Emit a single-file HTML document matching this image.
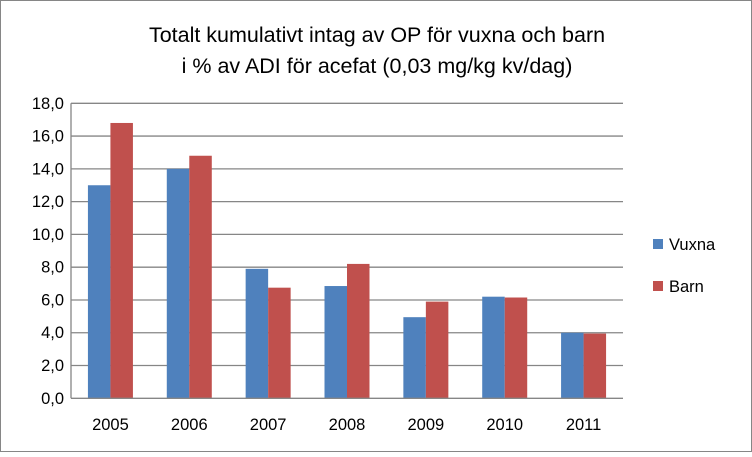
<!DOCTYPE html>
<html><head><meta charset="utf-8"><style>
body{margin:0;background:#fff}
svg text{font-family:"Liberation Sans",sans-serif}
</style></head><body>
<svg id="chart" width="752" height="452" xmlns="http://www.w3.org/2000/svg">
<rect x="0.5" y="0.5" width="751" height="451" fill="#fff" stroke="#868686"/>
<text x="377" y="42" font-size="21.5" text-anchor="middle" fill="#000">Totalt kumulativt intag av OP för vuxna och barn</text>
<text x="377" y="73" font-size="21.5" text-anchor="middle" fill="#000">i % av ADI för acefat (0,03 mg/kg kv/dag)</text>
<g id="grid"></g><g id="bars"></g><g id="axes"></g>
<g>
<rect x="653" y="239" width="10" height="10" fill="#4f81bd"/>
<text x="669" y="250" font-size="16.5">Vuxna</text>
<rect x="653" y="281" width="10" height="10" fill="#c0504d"/>
<text x="669" y="292" font-size="16.5">Barn</text>
</g>
</svg>
<script>
const categories=["2005","2006","2007","2008","2009","2010","2011"];
const vuxna=[13.0,14.0,7.9,6.85,4.95,6.2,4.0];
const barn=[16.8,14.8,6.75,8.2,5.9,6.15,3.95];
const yTicks=[0,2,4,6,8,10,12,14,16,18];
const yTickLabels=["0,0","2,0","4,0","6,0","8,0","10,0","12,0","14,0","16,0","18,0"];
const NS="http://www.w3.org/2000/svg";
const x0=71,x1=623,yb=398.3,yt=103.3,ymax=18;
const y=v=>yb-(v/ymax)*(yb-yt);
const cw=(x1-x0)/categories.length;
const bw=22.5;
function mk(tag,attrs,parent){const e=document.createElementNS(NS,tag);for(const k in attrs)e.setAttribute(k,attrs[k]);document.getElementById(parent).appendChild(e);return e;}
yTicks.forEach((t,i)=>{
 if(t>0){const l=mk('line',{x1:x0,x2:x1,y1:y(t),y2:y(t),stroke:'#868686','stroke-width':1.3},'grid');
 
 }
 const tx=mk('text',{x:x0-7,y:y(t)+5.5,'font-size':16.5,'text-anchor':'end'},'axes');
 tx.textContent=yTickLabels[i];
 
 
});
categories.forEach((c,i)=>{
 const cx=x0+cw*(i+0.5);
 const b1=mk('rect',{x:cx-bw,y:y(vuxna[i]),width:bw,height:yb-y(vuxna[i]),fill:'#4f81bd'},'bars');
 
 
 const b2=mk('rect',{x:cx,y:y(barn[i]),width:bw,height:yb-y(barn[i]),fill:'#c0504d'},'bars');
 
 
 const tx=mk('text',{x:cx,y:430,'font-size':16.5,'text-anchor':'middle'},'axes');
 tx.textContent=c;
 
 
});
const ya=mk('line',{x1:x0,x2:x0,y1:yt,y2:yb,stroke:'#868686','stroke-width':1.3},'axes');


const xa=mk('line',{x1:x0,x2:x1,y1:yb,y2:yb,stroke:'#868686','stroke-width':1.3},'axes');


</script>
</body></html>
